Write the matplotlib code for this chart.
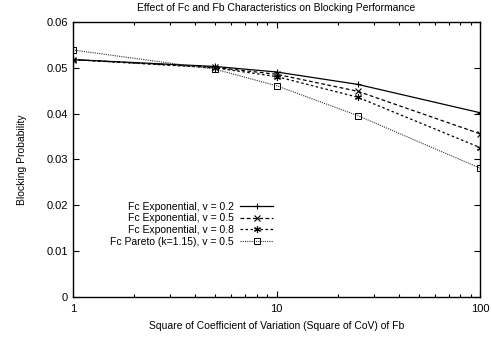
import matplotlib
matplotlib.use("Agg")
import matplotlib.pyplot as plt
from matplotlib.ticker import FixedLocator, NullFormatter, LogLocator

plt.rcParams['font.family'] = ['Liberation Sans', 'DejaVu Sans']

cov_sq = [1, 5, 10, 25, 100]
exp_v02 = [0.0518, 0.0503, 0.0491, 0.0464, 0.0402]
exp_v05 = [0.0518, 0.0501, 0.0486, 0.0449, 0.0356]
exp_v08 = [0.0518, 0.0500, 0.0481, 0.0436, 0.0326]
pareto_v05 = [0.0539, 0.0497, 0.0461, 0.0396, 0.0281]

labels = ["Fc Exponential, v = 0.2", "Fc Exponential, v = 0.5",
          "Fc Exponential, v = 0.8", "Fc Pareto (k=1.15), v = 0.5"]
yticks = [0, 0.01, 0.02, 0.03, 0.04, 0.05, 0.06]
xticks = [1, 10, 100]

fig = plt.figure(figsize=(4.92, 3.39), dpi=100)
ax = fig.add_axes([0.148, 0.124, 0.828, 0.811])

ax.plot(cov_sq, exp_v02, color="black", lw=0.9, ls="-", marker="+", ms=5, mew=0.8, label=labels[0])
ax.plot(cov_sq, exp_v05, color="black", lw=0.9, ls=(0, (3, 2)), marker="x", ms=4, mew=0.8, label=labels[1])
ax.plot(cov_sq, exp_v08, color="black", lw=0.9, ls=(0, (2, 2)), marker=(6, 2, 0), ms=5, mew=0.8, label=labels[2])
ax.plot(cov_sq, pareto_v05, color="#333333", lw=0.8, ls=(0, (1, 1)), marker="s", ms=4.5, mfc="none",
        mec="black", mew=0.7, label=labels[3])

ax.set_xscale("log")
ax.set_xlim(1, 100)
ax.set_ylim(0, 0.06)
ax.xaxis.set_major_locator(FixedLocator(xticks))
ax.set_xticklabels([str(t) for t in xticks])
ax.xaxis.set_minor_locator(LogLocator(base=10, subs=range(2, 10)))
ax.xaxis.set_minor_formatter(NullFormatter())
ax.set_yticks(yticks)
ax.set_yticklabels(["0", "0.01", "0.02", "0.03", "0.04", "0.05", "0.06"])

ax.tick_params(which="both", direction="in", top=True, right=True, labelsize=8, width=0.8)
ax.tick_params(which="major", length=4)
ax.tick_params(which="minor", length=2.5)
ax.tick_params(axis="x", pad=5)
for s in ax.spines.values():
    s.set_linewidth(1.0)

ax.set_title("Effect of Fc and Fb Characteristics on Blocking Performance", fontsize=7.5, pad=8)
ax.set_xlabel("Square of Coefficient of Variation (Square of CoV) of Fb", fontsize=7.5, labelpad=5)
ax.set_ylabel("Blocking Probability", fontsize=7.5, labelpad=14)

ax.legend(loc="upper right", bbox_to_anchor=(0.505, 0.365), frameon=False, markerfirst=False,
          fontsize=7.5, handlelength=3.2, handletextpad=0.6, labelspacing=0.15, borderpad=0)

fig.savefig("out.png", dpi=100)
